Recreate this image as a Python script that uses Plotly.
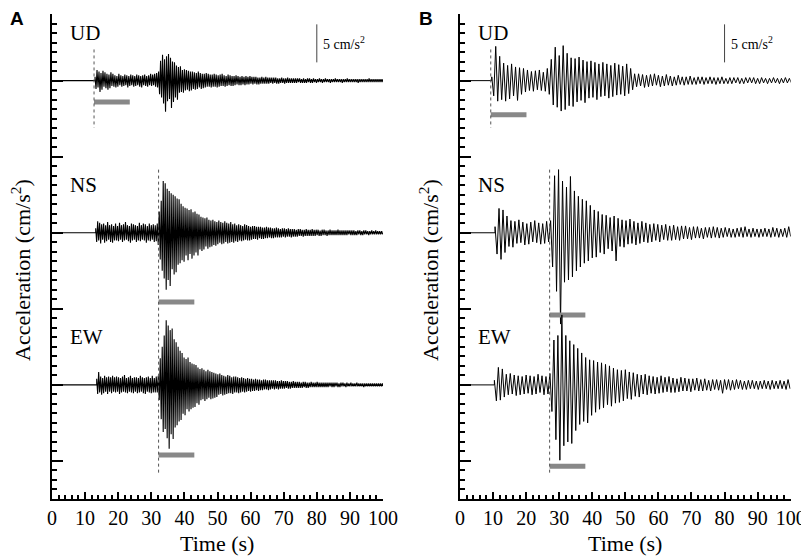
import plotly.graph_objects as go
from plotly.subplots import make_subplots

dt_a = 0.3
dt_b = 0.6

# onset of each record (s)
onset_a = {"UD": 13.0, "NS": 13.2, "EW": 13.5}
onset_b = {"UD": 9.6, "NS": 10.6, "EW": 10.4}

# alternating peak accelerations in 0.1 cm/s^2, one value every dt after the onset
ud_a = [5, -11, 14, -9, 12, -15, 10, -12, 13, -8, 11, -10, 9, -12, 8, -10, 11, -7, 9, -8,
        7, -9, 6, -8, 9, -6, 7, -8, 6, -7, 8, -6, 7, -9, 6, -7, 8, -6, 7, -8,
        6, -7, 8, -6, 7, -8, 6, -9, 7, -6, 8, -7, 6, -8, 7, -6, 9, -7, 8, -6,
        9, -8, 10, -9, 12, -18, 26, -22, 34, -30, 28, -41, 32, -27, 35, -24, 30, -36, 25, -28,
        24, -22, 20, -25, 18, -16, 19, -15, 14, -16, 15, -13, 14, -12, 13, -14, 12, -13, 12, -11,
        11, -12, 10, -11, 12, -9, 10, -11, 9, -10, 9, -9, 10, -8, 9, -8, 8, -9, 8, -8,
        9, -8, 8, -9, 7, -8, 8, -7, 9, -7, 7, -8, 6, -7, 8, -6, 7, -7, 6, -7,
        6, -6, 7, -5, 6, -6, 5, -6, 6, -5, 5, -6, 6, -5, 5, -5, 6, -4, 5, -5,
        5, -4, 5, -5, 4, -5, 4, -4, 5, -4, 4, -4, 5, -4, 4, -4, 4, -3, 4, -4,
        4, -3, 4, -4, 3, -4, 3, -3, 4, -3, 3, -4, 3, -3, 4, -3, 3, -3, 3, -3,
        3, -3, 3, -3, 3, -2, 3, -3, 2, -3, 3, -3, 2, -3, 3, -2, 3, -3, 2, -3,
        3, -2, 2, -3, 2, -2, 3, -2, 2, -3, 2, -2, 3, -2, 2, -2, 2, -3, 2, -2,
        2, -2, 3, -2, 2, -2, 2, -2, 2, -3, 2, -2, 2, -2, 3, -2, 2, -2, 2, -2,
        2, -2, 2, -2, 2, -3, 2, -2, 2, -2, 2, -2, 2, -2, 2, -2, 3, -2, 2, -2,
        2, -2, 2, -2, 2, -2, 2, -2, 2, -2, 2]

ns_a = [6, -12, 15, -10, 13, -14, 11, -9, 12, -13, 10, -11, 14, -9, 10, -12, 11, -13, 9, -10,
        12, -10, 9, -11, 13, -9, 10, -12, 11, -10, 14, -9, 10, -11, 9, -13, 12, -10, 11, -9,
        10, -12, 9, -10, 13, -11, 10, -9, 12, -10, 11, -13, 9, -10, 12, -11, 10, -9, 11, -12,
        10, -11, 12, -16, 28, -35, 42, -50, 68, -60, 65, -75, 58, -62, 55, -70, 52, -48, 50, -55,
        48, -52, 45, -42, 44, -40, 38, -36, 35, -38, 33, -30, 32, -36, 30, -28, 31, -34, 27, -30,
        28, -26, 25, -30, 24, -22, 21, -24, 20, -22, 19, -18, 20, -21, 17, -19, 16, -18, 17, -16,
        15, -17, 14, -15, 16, -13, 14, -15, 13, -14, 15, -12, 13, -14, 12, -13, 14, -12, 11, -13,
        12, -11, 10, -12, 11, -10, 10, -11, 9, -10, 11, -9, 10, -10, 9, -10, 8, -9, 9, -8,
        9, -8, 8, -9, 8, -7, 8, -8, 7, -8, 7, -7, 8, -7, 7, -6, 7, -7, 6, -7,
        6, -6, 7, -6, 6, -6, 5, -6, 6, -5, 6, -6, 5, -5, 6, -5, 5, -6, 5, -5,
        5, -5, 4, -5, 5, -4, 5, -4, 4, -5, 4, -4, 5, -4, 4, -4, 4, -4, 5, -4,
        4, -4, 4, -3, 4, -4, 3, -4, 4, -3, 4, -3, 3, -4, 3, -3, 4, -3, 3, -3,
        3, -3, 3, -3, 4, -3, 3, -3, 3, -3, 3, -3, 3, -3, 3, -2, 3, -3, 3, -3,
        3, -3, 2, -3, 3, -2, 3, -3, 2, -3, 3, -2, 3, -2, 2, -3, 2, -2, 3, -2,
        2, -2, 3, -2, 2, -2, 2, -2, 2, -2]

ew_a = [8, -12, 17, -10, 11, -13, 9, -11, 12, -9, 10, -12, 11, -9, 10, -11, 12, -9, 10, -10,
        11, -9, 10, -12, 9, -10, 11, -9, 13, -10, 9, -11, 10, -9, 12, -10, 9, -11, 10, -9,
        10, -11, 9, -10, 12, -9, 10, -11, 9, -12, 10, -9, 11, -10, 9, -11, 12, -10, 9, -10,
        11, -10, 12, -20, 35, -45, 50, -62, 65, -58, 85, -70, 78, -84, 72, -65, 74, -71, 60, -56,
        56, -53, 50, -48, 45, -46, 42, -38, 36, -40, 34, -32, 36, -35, 30, -32, 28, -30, 27, -29,
        26, -24, 23, -26, 21, -20, 22, -19, 20, -21, 18, -19, 20, -17, 18, -19, 17, -18, 16, -17,
        15, -16, 14, -13, 15, -12, 13, -14, 12, -13, 11, -12, 13, -11, 12, -11, 10, -12, 11, -10,
        11, -10, 10, -11, 9, -10, 10, -9, 9, -10, 8, -9, 9, -8, 8, -9, 8, -8, 7, -8,
        8, -7, 7, -8, 7, -7, 6, -7, 7, -6, 7, -6, 6, -7, 6, -6, 6, -5, 6, -6,
        6, -5, 5, -6, 5, -5, 6, -5, 5, -5, 5, -4, 5, -5, 4, -5, 4, -4, 5, -4,
        4, -4, 4, -4, 4, -4, 3, -4, 4, -3, 4, -4, 3, -4, 3, -3, 4, -3, 3, -3,
        3, -3, 4, -3, 3, -3, 3, -3, 3, -3, 3, -3, 3, -3, 3, -2, 3, -3, 3, -3,
        3, -2, 3, -3, 2, -3, 3, -2, 3, -2, 2, -3, 3, -2, 2, -2, 3, -2, 2, -2,
        2, -2, 3, -2, 2, -2, 2, -2, 2, -3, 2, -2, 2, -2, 2, -2, 2, -2, 2, -2,
        2, -2, 2, -2, 2, -2, 2, -2, 2, -2]

ud_b = [5, -20, 45, -27, 32, -25, 23, -27, 20, -24, 22, -20, 18, -26, 17, -18, 16, -15, 14, -13,
        12, -14, 13, -12, 14, -13, 11, -14, 16, -18, 28, -32, 44, -35, 33, -40, 46, -38, 36, -33,
        30, -34, 29, -28, 31, -26, 27, -29, 25, -23, 26, -22, 24, -25, 22, -21, 24, -20, 22, -23,
        20, -21, 23, -19, 21, -18, 19, -20, 22, -17, 16, -12, 9, -8, 9, -7, 8, -9, 7, -8,
        8, -7, 9, -6, 7, -8, 6, -7, 8, -6, 6, -7, 5, -6, 7, -5, 5, -6, 5, -5,
        6, -5, 4, -5, 5, -4, 5, -5, 4, -4, 5, -4, 4, -5, 4, -4, 5, -4, 3, -4,
        4, -4, 4, -3, 4, -4, 3, -4, 4, -3, 4, -3, 4, -4, 3, -4, 4, -3, 3, -4,
        3, -3, 4, -3, 3, -4, 3, -3, 4, -3, 3, -3]

ns_b = [8, -28, 32, -35, 30, -26, 22, -18, 16, -19, 15, -14, 17, -13, 14, -16, 12, -15, 14, -12,
        16, -13, 13, -15, 12, -14, 15, -12, 16, -45, 75, -77, 83, -120, 68, -65, 60, -62, 74, -58,
        55, -50, 48, -45, 44, -40, 42, -37, 36, -33, 30, -32, 28, -26, 24, -28, 23, -21, 20, -24,
        22, -37, 19, -18, 17, -19, 16, -15, 18, -14, 15, -16, 13, -14, 15, -12, 13, -13, 11, -12,
        12, -10, 11, -12, 10, -9, 11, -10, 9, -10, 10, -9, 8, -10, 9, -8, 9, -8, 7, -9,
        8, -7, 8, -7, 6, -8, 7, -6, 7, -7, 8, -6, 7, -7, 6, -6, 7, -5, 6, -6,
        5, -6, 6, -5, 7, -6, 8, -5, 5, -6, 6, -5, 5, -6, 5, -5, 6, -5, 5, -6,
        7, -5, 6, -6, 5, -5, 6, -6, 8, -5]

ew_b = [6, -21, 23, -20, 21, -16, 14, -13, 15, -12, 13, -14, 12, -13, 11, -12, 13, -11, 12, -13,
        11, -12, 14, -10, 12, -13, 11, -12, 15, -35, 59, -72, 65, -99, 92, -80, 65, -75, 58, -77,
        53, -60, 48, -52, 42, -48, 36, -50, 33, -40, 32, -36, 30, -32, 29, -30, 27, -26, 25, -28,
        22, -24, 20, -23, 19, -21, 20, -18, 17, -19, 16, -15, 14, -16, 13, -12, 14, -13, 12, -11,
        11, -12, 10, -11, 12, -10, 10, -9, 11, -10, 9, -10, 8, -9, 10, -8, 9, -8, 8, -9,
        8, -7, 9, -8, 7, -8, 8, -7, 6, -8, 7, -6, 7, -7, 6, -11, 7, -6, 7, -7,
        6, -6, 7, -5, 6, -6, 5, -6, 6, -5, 6, -5, 5, -6, 5, -5, 6, -5, 5, -6,
        6, -5, 5, -5, 6, -5, 5, -6, 7, -5]

# picked arrival times (s) and length of the analysis window (s)
pick_a = {"UD": 12.7, "NS": 32.2, "EW": 32.2}
pick_b = {"UD": 9.3, "NS": 27.1, "EW": 27.1}
win_len = 10.8

scale_bar = 5  # cm/s^2
x_ticks = [0, 10, 20, 30, 40, 50, 60, 70, 80, 90, 100]

SERIF = "Liberation Serif"
# the page body has an 8 px margin, so the figure starts 8 px in
W, H = 801, 548


def px(x):
    return (x - 8) / W


def py(y):
    return 1 - (y - 8) / H


fig = make_subplots(rows=1, cols=2)

# vertical offset of each component on the shared axis (cm/s^2)
base = {"UD": 55, "NS": 35, "EW": 15}
# where the grey window bar sits relative to the baseline
bar_off = {1: {"UD": -2.8, "NS": -9.1, "EW": -9.2},
           2: {"UD": -4.5, "NS": -10.8, "EW": -10.7}}

panels = [
    (1, dt_a, onset_a, pick_a, {"UD": ud_a, "NS": ns_a, "EW": ew_a}, 1.1),
    (2, dt_b, onset_b, pick_b, {"UD": ud_b, "NS": ns_b, "EW": ew_b}, 1.0),
]

for col, dt, onset, pick, recs, lw in panels:
    for comp, vals in recs.items():
        t = [0, onset[comp]] + [onset[comp] + dt * i for i in range(len(vals))]
        y = [base[comp], base[comp]] + [base[comp] + 0.1 * v for v in vals]
        fig.add_trace(go.Scatter(x=t, y=y, mode="lines",
                                 line=dict(color="black", width=lw),
                                 showlegend=False, hoverinfo="skip"), row=1, col=col)
        # grey window bar
        yb = base[comp] + bar_off[col][comp]
        fig.add_trace(go.Scatter(x=[pick[comp], pick[comp] + win_len], y=[yb, yb],
                                 mode="lines", line=dict(color="#888888", width=5),
                                 showlegend=False, hoverinfo="skip"), row=1, col=col)
        fig.add_annotation(x=4.8, y=base[comp] + 6.3, text=comp, showarrow=False,
                           xanchor="left", yanchor="middle",
                           font=dict(family=SERIF, size=21, color="black"),
                           row=1, col=col)
    # dotted pick lines: one for UD, one spanning NS and EW
    fig.add_trace(go.Scatter(x=[pick["UD"], pick["UD"]], y=[59.1, 48.8], mode="lines",
                             line=dict(color="#555555", width=1, dash="dot"),
                             showlegend=False, hoverinfo="skip"), row=1, col=col)
    fig.add_trace(go.Scatter(x=[pick["NS"], pick["NS"]], y=[43.3, 3.2], mode="lines",
                             line=dict(color="#555555", width=1, dash="dot"),
                             showlegend=False, hoverinfo="skip"), row=1, col=col)
    # amplitude scale bar
    fig.add_trace(go.Scatter(x=[80, 80], y=[57.4, 57.4 + scale_bar], mode="lines",
                             line=dict(color="#444444", width=1),
                             showlegend=False, hoverinfo="skip"), row=1, col=col)
    fig.add_annotation(x=81.3, y=59.9, text="%d cm/s<sup>2</sup>" % scale_bar,
                       showarrow=False, xanchor="left", yanchor="middle",
                       font=dict(family=SERIF, size=14, color="black"), row=1, col=col)

xdom = {1: [px(52), px(383)], 2: [px(460), px(790.7)]}
ydom = [py(499), py(14)]

for col in (1, 2):
    fig.update_xaxes(domain=xdom[col], range=[0, 100], tickmode="array", tickvals=x_ticks,
                     ticks="inside", ticklen=7, tickwidth=2, tickcolor="black",
                     minor=dict(tick0=0, dtick=2, ticks="inside", ticklen=4,
                                tickwidth=1.5, tickcolor="black"),
                     showline=True, linewidth=2, linecolor="black",
                     showgrid=False, zeroline=False, automargin=False,
                     ticklabeloverflow="allow",
                     tickfont=dict(family=SERIF, size=20, color="black"),
                     row=1, col=col)
    fig.update_yaxes(domain=ydom, range=[0, 63.76], tick0=5, dtick=10,
                     ticks="inside", ticklen=11, tickwidth=2, tickcolor="black",
                     minor=dict(tick0=0, dtick=1.25, ticks="inside", ticklen=5,
                                tickwidth=1.5, tickcolor="black"),
                     showticklabels=False, showline=True, linewidth=2, linecolor="black",
                     showgrid=False, zeroline=False, automargin=False, row=1, col=col)

# panel letters and axis titles
for xp, letter in [(17, "A"), (426, "B")]:
    fig.add_annotation(x=px(xp), y=py(18), xref="paper", yref="paper",
                       text="<b>%s</b>" % letter, showarrow=False,
                       xanchor="center", yanchor="middle",
                       font=dict(family="Liberation Sans", size=19, color="black"))
for xc in [(52 + 383) / 2, (460 + 790.7) / 2]:
    fig.add_annotation(x=px(xc), y=py(543), xref="paper", yref="paper", text="Time (s)",
                       showarrow=False, xanchor="center", yanchor="middle",
                       font=dict(family=SERIF, size=22, color="black"))
for xp in [21, 429]:
    fig.add_annotation(x=px(xp), y=py(270), xref="paper", yref="paper",
                       text="Acceleration (cm/s<sup>2</sup>)", textangle=-90,
                       showarrow=False, xanchor="center", yanchor="middle",
                       font=dict(family=SERIF, size=22, color="black"))

fig.update_layout(width=W, height=H, margin=dict(l=0, r=0, t=0, b=0),
                  plot_bgcolor="white", paper_bgcolor="white", showlegend=False)

fig.write_html("out.html")
